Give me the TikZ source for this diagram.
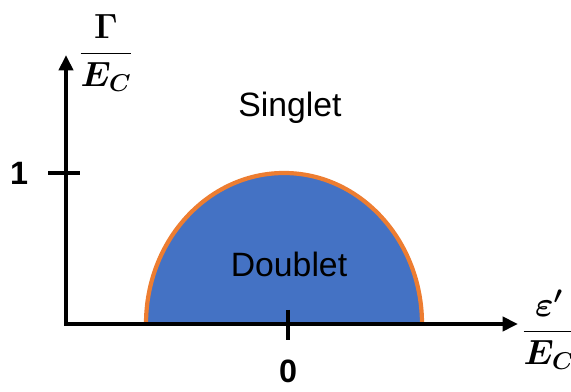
\documentclass[tikz,border=0pt]{standalone}
\usepackage{fontspec}
\setmainfont{Liberation Sans}
\usepackage{amsmath,bm}
\usetikzlibrary{
    arrows.meta,
    positioning
}
\definecolor{doubletblue}{RGB}{68,114,196}
\definecolor{borderorange}{RGB}{237,125,49}

\begin{document}
\begin{tikzpicture}[
    x=0.025cm,
    y=0.025cm,
    every node/.style={
        font=\fontsize{24pt}{29pt}\selectfont
    },
    axisline/.style={
        line width=2.8pt,
        -{Triangle[length=11pt,width=10pt]}
    },
    tickline/.style={
        line width=2.8pt
    },
    ticklabel/.style={
        font=\fontsize{23pt}{28pt}\selectfont\bfseries
    },
    axislabel/.style={
        font=\fontsize{26pt}{31pt}\selectfont
    }
]

    \useasboundingbox (0,0) rectangle (571,392);

    % Doublet region (half ellipse)
    \filldraw[
        fill=doubletblue,
        draw=borderorange,
        line width=3pt
    ]
        (146,68)
        arc[start angle=180, end angle=0, x radius=138, y radius=151];

    % Axes
    \coordinate (origin) at (66,68);
    \coordinate (xend) at (518,68);
    \coordinate (yend) at (66,337);

    \draw[axisline]
        ([xshift=-1.4pt]origin) -- (xend);

    \draw[axisline]
        ([yshift=-1.4pt]origin) -- (yend);

    % Ticks
    \coordinate (tickoneleft) at (48,219);
    \coordinate (tickoneright) at (80,219);
    \coordinate (tickzerotop) at (288,82);
    \coordinate (tickzerobottom) at (288,52);

    \draw[tickline] (tickoneleft) -- (tickoneright);
    \draw[tickline] (tickzerotop) -- (tickzerobottom);

    % Tick labels
    \node[ticklabel] (one) at (19,219) {1};
    \node[ticklabel, anchor=base] (zero) at (288,9) {0};

    % Phase labels
    \node[anchor=base] (singlet) at (290,275) {Singlet};
    \node[anchor=base] (doublet) at (289,115) {Doublet};

    % Axis labels
    \node[axislabel] (gammalabel) at (106,339)
        {$\displaystyle\frac{\bm{\Gamma}}{\bm{E_C}}$};

    \node[axislabel] (epslabel) at (549,62)
        {$\displaystyle\frac{\bm{\varepsilon'}}{\bm{E_C}}$};

\end{tikzpicture}
\end{document}
